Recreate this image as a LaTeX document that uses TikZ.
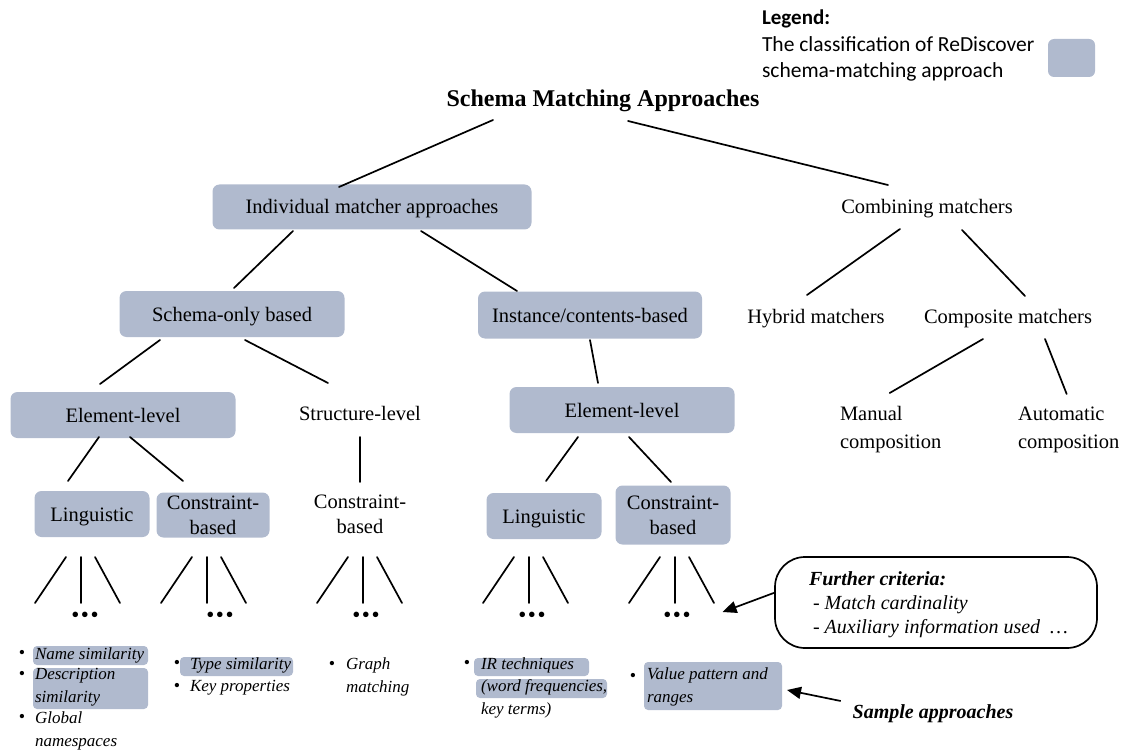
\documentclass[tikz,border=0pt]{standalone}
\usepackage{fontspec}
\setmainfont{Liberation Serif}
\newfontfamily\legendfont{Carlito}
\usetikzlibrary{arrows.meta}
\definecolor{boxfill}{RGB}{176,186,206}
\begin{document}
\begin{tikzpicture}[x=1pt,y=-1pt,
  every node/.style={inner sep=0pt, outer sep=0pt},
  lbl/.style={font=\fontsize{20.5}{25}\selectfont, align=center},
  oneline/.style={text height=14pt, text depth=0pt},
  cat/.style={lbl, fill=boxfill, rounded corners=7pt},
  edge/.style={line width=1.7pt, line cap=round},
  item/.style={font=\fontsize{17}{22.5}\selectfont\itshape, align=left, anchor=west},
  bul/.style={font=\fontsize{18}{18}\selectfont},
  hl/.style={fill=boxfill, rounded corners=4pt},
  dots/.style={font=\fontsize{23}{23}\selectfont},
  pointer/.style={line width=1.7pt, -{Triangle[length=14pt,width=12pt]}}
]
\useasboundingbox (0,0) rectangle (1131,751);

% legend
\node[anchor=west, font=\legendfont\bfseries\fontsize{21}{26}\selectfont] (legtitle) at (762,19) {Legend:};
\node[anchor=west, align=left, font=\legendfont\fontsize{21.5}{26}\selectfont] (legtext) at (762,59)
  {The classification of ReDiscover\\schema-matching approach};
\node[fill=boxfill, rounded corners=6pt, minimum width=47, minimum height=38] (legbox) at (1071.5,58) {};

% tree nodes
\node[oneline, font=\fontsize{24}{28}\selectfont\bfseries] (title) at (603,100) {Schema Matching Approaches};
\node[cat, oneline, minimum width=319, minimum height=45] (ind) at (372,207) {Individual matcher approaches};
\node[lbl, oneline] (comb) at (927,207) {Combining matchers};
\node[cat, oneline, minimum width=225, minimum height=46] (schema) at (232,314) {Schema-only based};
\node[cat, oneline, minimum width=224, minimum height=47] (inst) at (590,315) {Instance/contents-based};
\node[lbl, oneline] (hyb) at (816,316) {Hybrid matchers};
\node[lbl, oneline] (comp) at (1008,316) {Composite matchers};
\node[lbl, align=left, anchor=west, font=\fontsize{20.5}{28}\selectfont] (man) at (840,430) {Manual\\composition};
\node[lbl, align=left, anchor=west, font=\fontsize{20.5}{28}\selectfont] (auto) at (1018,430) {Automatic\\composition};
\node[cat, oneline, minimum width=225, minimum height=46] (el1) at (123,415) {Element-level};
\node[lbl, oneline] (struct) at (360,413) {Structure-level};
\node[cat, oneline, minimum width=225, minimum height=46] (el2) at (622,410) {Element-level};
\node[cat, oneline, minimum width=115, minimum height=46] (ling1) at (92,514) {Linguistic};
\node[cat, minimum width=113, minimum height=45] (cons1) at (213,515) {Constraint-\\based};
\node[lbl] (cons3) at (360,514) {Constraint-\\based};
\node[cat, oneline, minimum width=115, minimum height=46] (ling2) at (544,516) {Linguistic};
\node[cat, minimum width=115, minimum height=59] (cons2) at (673,515) {Constraint-\\based};

% ellipsis nodes below the leaf categories
\node[dots] (d1) at (85,617) {\textbullet\kern1.5pt\textbullet\kern1.5pt\textbullet};
\node[dots] (d2) at (220,617) {\textbullet\kern1.5pt\textbullet\kern1.5pt\textbullet};
\node[dots] (d3) at (366,617) {\textbullet\kern1.5pt\textbullet\kern1.5pt\textbullet};
\node[dots] (d4) at (532,617) {\textbullet\kern1.5pt\textbullet\kern1.5pt\textbullet};
\node[dots] (d5) at (677,617) {\textbullet\kern1.5pt\textbullet\kern1.5pt\textbullet};

% tree connectors
\draw[edge] ([shift={(-110,20)}]title.center) -- ([shift={(-33,-20)}]ind.center);
\draw[edge] ([shift={(25,21)}]title.center) -- ([shift={(-39,-22)}]comb.center);
\draw[edge] ([shift={(-79,24)}]ind.center) -- ([shift={(2,-26)}]schema.center);
\draw[edge] ([shift={(49,24)}]ind.center) -- ([shift={(-73,-24)}]inst.center);
\draw[edge] ([shift={(-27,22)}]comb.center) -- ([shift={(-9,-21)}]hyb.center);
\draw[edge] ([shift={(35,23)}]comb.center) -- ([shift={(17,-20)}]comp.center);
\draw[edge] ([shift={(-25,23)}]comp.center) -- ([shift={(-1,-37)}]man.center);
\draw[edge] ([shift={(37,23)}]comp.center) -- ([shift={(-2,-36)}]auto.center);
\draw[edge] ([shift={(-72,26)}]schema.center) -- ([shift={(-23,-31)}]el1.center);
\draw[edge] ([shift={(13,26)}]schema.center) -- ([shift={(-32,-30)}]struct.center);
\draw[edge] ([shift={(0,25)}]inst.center) -- ([shift={(-24,-27)}]el2.center);
\draw[edge] ([shift={(-24,22)}]el1.center) -- ([shift={(-24,-33)}]ling1.center);
\draw[edge] ([shift={(7,22)}]el1.center) -- ([shift={(-30,-34)}]cons1.center);
\draw[edge] ([shift={(0,24)}]struct.center) -- ([shift={(0,-32)}]cons3.center);
\draw[edge] ([shift={(-44,27)}]el2.center) -- ([shift={(2,-35)}]ling2.center);
\draw[edge] ([shift={(7,27)}]el2.center) -- ([shift={(-2,-33)}]cons2.center);

% three-line fans from each leaf to its ellipsis
\foreach \p/\d/\py/\pa/\pb/\pc/\da/\db/\dc in {
  ling1/d1/43/-26/-11/3/-50/-4/35,
  cons1/d2/42/-21/-6/8/-59/-13/26,
  cons3/d3/43/-12/3/17/-49/-3/36,
  ling2/d4/41/-30/-15/-1/-49/-3/36,
  cons2/d5/42/-13/2/16/-48/-2/37}{
  \draw[edge] ([shift={(\pa,\py)}]\p.center) -- ([shift={(\da,-14)}]\d.center);
  \draw[edge] ([shift={(\pb,\py)}]\p.center) -- ([shift={(\db,-14)}]\d.center);
  \draw[edge] ([shift={(\pc,\py)}]\p.center) -- ([shift={(\dc,-14)}]\d.center);
}

% further criteria box
\node[draw, line width=1.7pt, rounded corners=30pt, minimum width=322, minimum height=91] (crit) at (936,602.5) {};
\node[anchor=west, align=left, font=\fontsize{20}{24}\selectfont\itshape] (crittext) at (809,605)
  {\textbf{Further criteria:}\\\hspace{4pt}- Match cardinality\\\hspace{4pt}- Auxiliary information used \ \ldots};
\draw[pointer] ([yshift=10]crit.west) -- ([shift={(32,-5)}]d5.east);

% sample approaches
\node[hl, minimum width=115, minimum height=19] (h1) at (90.5,655.5) {};
\node[hl, minimum width=115, minimum height=41] (h2) at (90.5,688.5) {};
\node[hl, minimum width=113, minimum height=19] (h3) at (236.5,666.5) {};
\node[hl, minimum width=115, minimum height=18] (h4) at (531.5,667) {};
\node[hl, minimum width=131, minimum height=19] (h5) at (541.5,688.5) {};
\node[hl, minimum width=138, minimum height=48] (h6) at (713,686) {};

\node[bul] (b1) at (22,654) {\textbullet};
\node[bul] (b2) at (22,675) {\textbullet};
\node[bul] (b3) at (22,718) {\textbullet};
\node[item] (t1) at (35,655) {Name similarity};
\node[item] (t2) at (35,687) {Description\\similarity};
\node[item] (t3) at (35,731) {Global\\namespaces};

\node[bul] (b4) at (177,664) {\textbullet};
\node[bul] (b5) at (177,687) {\textbullet};
\node[item] (t4) at (190,665) {Type similarity};
\node[item] (t5) at (190,688) {Key properties};

\node[bul] (b6) at (332,665) {\textbullet};
\node[item] (t6) at (346,677) {Graph\\matching};

\node[bul] (b7) at (467,664) {\textbullet};
\node[item] (t7) at (481,687.5) {IR techniques\\(word frequencies,\\key terms)};

\node[bul] (b8) at (633,677) {\textbullet};
\node[item] (t8) at (647,687) {Value pattern and\\ranges};

\node[oneline, font=\fontsize{20}{24}\selectfont\bfseries\itshape] (sample) at (933,711) {Sample approaches};
\draw[pointer] ([shift={(-12,-10)}]sample.west) -- ([shift={(5,4)}]h6.east);

\end{tikzpicture}
\end{document}
